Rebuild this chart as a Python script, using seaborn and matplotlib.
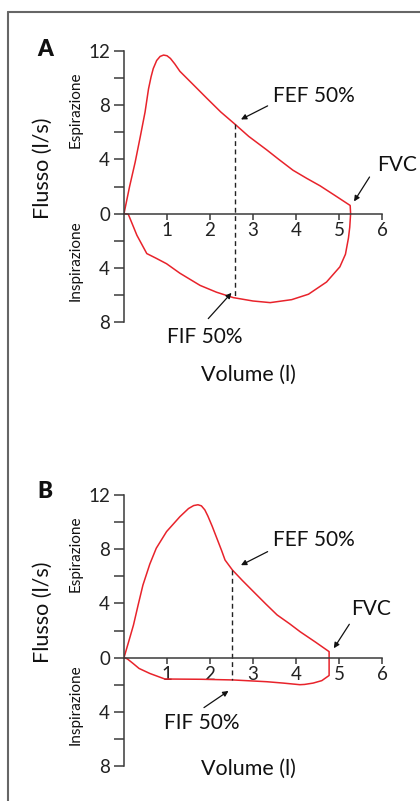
import matplotlib
matplotlib.use("Agg")
import matplotlib.pyplot as plt
import seaborn as sns
import pandas as pd
from matplotlib.lines import Line2D
from matplotlib.ticker import FuncFormatter, FixedLocator

sns.set_style("white")
plt.rcParams['font.family'] = ['Lato', 'DejaVu Sans']

# ---- Data (volume in l, flow in l/s; inspiration drawn as negative flow) ----
# Panel A
a_exp_vol = [0, 0.13, 0.26, 0.38, 0.49, 0.57, 0.63, 0.68, 0.76, 0.84, 0.92, 1.0, 1.08,
             1.18, 1.3, 1.6, 1.93, 2.25, 2.58, 2.9, 3.32, 3.6, 3.93, 4.25, 4.56, 4.9, 5.26]
a_exp_flow = [0, 2.0, 3.8, 5.7, 7.5, 9.2, 10.1, 10.7, 11.3, 11.6, 11.7, 11.65, 11.45,
              11.05, 10.5, 9.55, 8.5, 7.5, 6.6, 5.7, 4.7, 4.0, 3.2, 2.6, 2.05, 1.35, 0.6]
a_insp_vol = [5.26, 5.27, 5.25, 5.22, 5.15, 5.02, 4.71, 4.29, 3.9, 3.4, 3.0, 2.54,
              2.15, 1.77, 1.3, 0.99, 0.75, 0.53, 0.3, 0.1, 0]
a_insp_flow = [0.6, 0, -1.0, -1.8, -3.0, -3.93, -5.05, -5.95, -6.35, -6.57, -6.45, -6.2,
               -5.8, -5.3, -4.4, -3.7, -3.3, -2.95, -1.6, -0.05, 0]
a_mid_vol = 2.58
a_fef50 = 6.6
a_fif50 = -6.2

# Panel B
b_exp_vol = [0, 0.12, 0.22, 0.33, 0.44, 0.6, 0.75, 0.99, 1.3, 1.5, 1.62, 1.72, 1.8,
             1.88, 1.95, 2.05, 2.16, 2.27, 2.35, 2.52, 2.75, 3.01, 3.3, 3.56, 3.85, 4.1,
             4.45, 4.77]
b_exp_flow = [0, 1.3, 2.4, 3.9, 5.35, 6.9, 8.07, 9.3, 10.4, 11.0, 11.22, 11.28, 11.2,
              10.9, 10.45, 9.7, 8.8, 7.9, 7.2, 6.47, 5.7, 4.87, 3.95, 3.15, 2.5, 1.9,
              1.15, 0.44]
b_insp_vol = [4.77, 4.77, 4.6, 4.4, 4.2, 4.09, 3.7, 3.32, 2.54, 1.8, 0.95, 0.6, 0.35, 0.21, 0.08, 0]
b_insp_flow = [0.44, -1.32, -1.7, -1.88, -1.98, -2.0, -1.88, -1.78, -1.65, -1.6, -1.58,
               -1.17, -0.8, -0.43, -0.1, 0]
b_mid_vol = 2.52
b_fef50 = 6.47
b_fif50 = -1.65

x_ticks = [1, 2, 3, 4, 5, 6]
y_ticks = [-8, -6, -4, -2, 0, 2, 4, 6, 8, 10, 12]
y_labeled = [-8, -4, 0, 4, 8, 12]

RED = "#e8232b"
SPINE = "#3a3a3a"

W, H = 420, 801
fig = plt.figure(figsize=(W / 100, H / 100), dpi=100)


def px_axes(left, top, right, bottom):
    return fig.add_axes([left / W, 1 - bottom / H, (right - left) / W, (bottom - top) / H])


def draw_panel(ax, ev, ef, iv, iff, mid, fef, fif, letter, letter_y, fvc_text, fvc_tail, fvc_head,
               fif_text, fif_tail, fif_head):
    vol = list(ev) + list(iv[1:])
    flow = list(ef) + list(iff[1:])
    df = pd.DataFrame({"vol": vol, "flow": flow})
    sns.lineplot(data=df, x="vol", y="flow", sort=False, estimator=None, ax=ax,
                 color=RED, linewidth=1.1)
    ax.plot([mid, mid], [fef, fif], color="#222222", lw=1.0, ls=(0, (3.5, 2.5)))
    ax.set_xlim(0, 6)
    ax.set_ylim(-8, 12)
    ax.set_xlabel("")
    ax.set_ylabel("")
    for s in ("top", "right"):
        ax.spines[s].set_visible(False)
    ax.spines["bottom"].set_position(("data", 0))
    for s in ("left", "bottom"):
        ax.spines[s].set_color(SPINE)
        ax.spines[s].set_linewidth(1.1)
    ax.xaxis.set_major_locator(FixedLocator(x_ticks))
    ax.yaxis.set_major_locator(FixedLocator(y_ticks))
    ax.xaxis.set_major_formatter(FuncFormatter(lambda v, p: f"{int(round(v))}"))
    ax.yaxis.set_major_formatter(FuncFormatter(
        lambda v, p: f"{abs(int(round(v)))}" if int(round(v)) in y_labeled else ""))
    ax.tick_params(axis="x", bottom=True, direction="out", length=4, width=1.1, color=SPINE,
                   labelsize=13.5, pad=2, labelcolor="#222222")
    ax.tick_params(axis="y", left=True, direction="out", length=7, width=1.1, color=SPINE,
                   labelsize=13.5, pad=3, labelcolor="#222222")
    ax.patch.set_alpha(0)

    arrow = dict(arrowstyle="-|>", color="#111111", lw=0.9, mutation_scale=8,
                 shrinkA=0, shrinkB=0)
    ax.annotate("", xy=(2.72, fef + 0.35), xytext=(3.34, fef + 1.35), arrowprops=arrow,
                annotation_clip=False)
    ax.text(3.46, 8.7, "FEF 50%", fontsize=15, va="center", ha="left", color="#111111",
            clip_on=False)
    ax.annotate("", xy=fvc_head, xytext=fvc_tail, arrowprops=arrow, annotation_clip=False)
    ax.text(fvc_text[0], fvc_text[1], "FVC", fontsize=15, va="center", ha="left",
            color="#111111", clip_on=False)
    ax.annotate("", xy=fif_head, xytext=fif_tail, arrowprops=arrow, annotation_clip=False)
    ax.text(fif_text[0], fif_text[1], "FIF 50%", fontsize=15, va="center", ha="left",
            color="#111111", clip_on=False)

    ax.text(-1.88, 3.35, "Flusso (l/s)", rotation=90, fontsize=15.5, ha="center", va="center",
            color="#111111", clip_on=False)
    ax.text(-1.12, 7.7, "Espirazione", rotation=90, fontsize=11, ha="center", va="center",
            color="#111111", clip_on=False)
    ax.text(-1.12, -3.5, "Inspirazione", rotation=90, fontsize=11, ha="center", va="center",
            color="#111111", clip_on=False)
    fig.text(45 / W, 1 - letter_y / H, letter, fontsize=16, fontweight="heavy",
             ha="center", va="center", color="#111111")


axA = px_axes(124, 51, 382, 322)
draw_panel(axA, a_exp_vol, a_exp_flow, a_insp_vol, a_insp_flow, a_mid_vol, a_fef50, a_fif50,
           "A", 49, (5.88, 3.55), (5.71, 2.7), (5.35, 0.9),
           (1.0, -9.1), (1.96, -7.75), (2.5, -5.85))
axA.text(2.9, -11.93, "Volume (l)", fontsize=15.5, ha="center", va="center", color="#111111",
         clip_on=False)

axB = px_axes(124, 495, 382, 766)
draw_panel(axB, b_exp_vol, b_exp_flow, b_insp_vol, b_insp_flow, b_mid_vol, b_fef50, b_fif50,
           "B", 492, (5.29, 3.6), (5.24, 2.46), (4.88, 0.69),
           (0.92, -4.85), (1.86, -3.69), (2.43, -2.46))
axB.text(2.9, -8.2, "Volume (l)", fontsize=15.5, ha="center", va="center", color="#111111",
         clip_on=False)

# frame around the figure (left and top edges visible)
fig.add_artist(Line2D([8 / W, 8 / W], [0, 1 - 12 / H], color="#666666", lw=1.5,
                      transform=fig.transFigure))
fig.add_artist(Line2D([8 / W, 1], [1 - 12 / H, 1 - 12 / H], color="#666666", lw=1.5,
                      transform=fig.transFigure))

fig.savefig("out.png", dpi=100)
